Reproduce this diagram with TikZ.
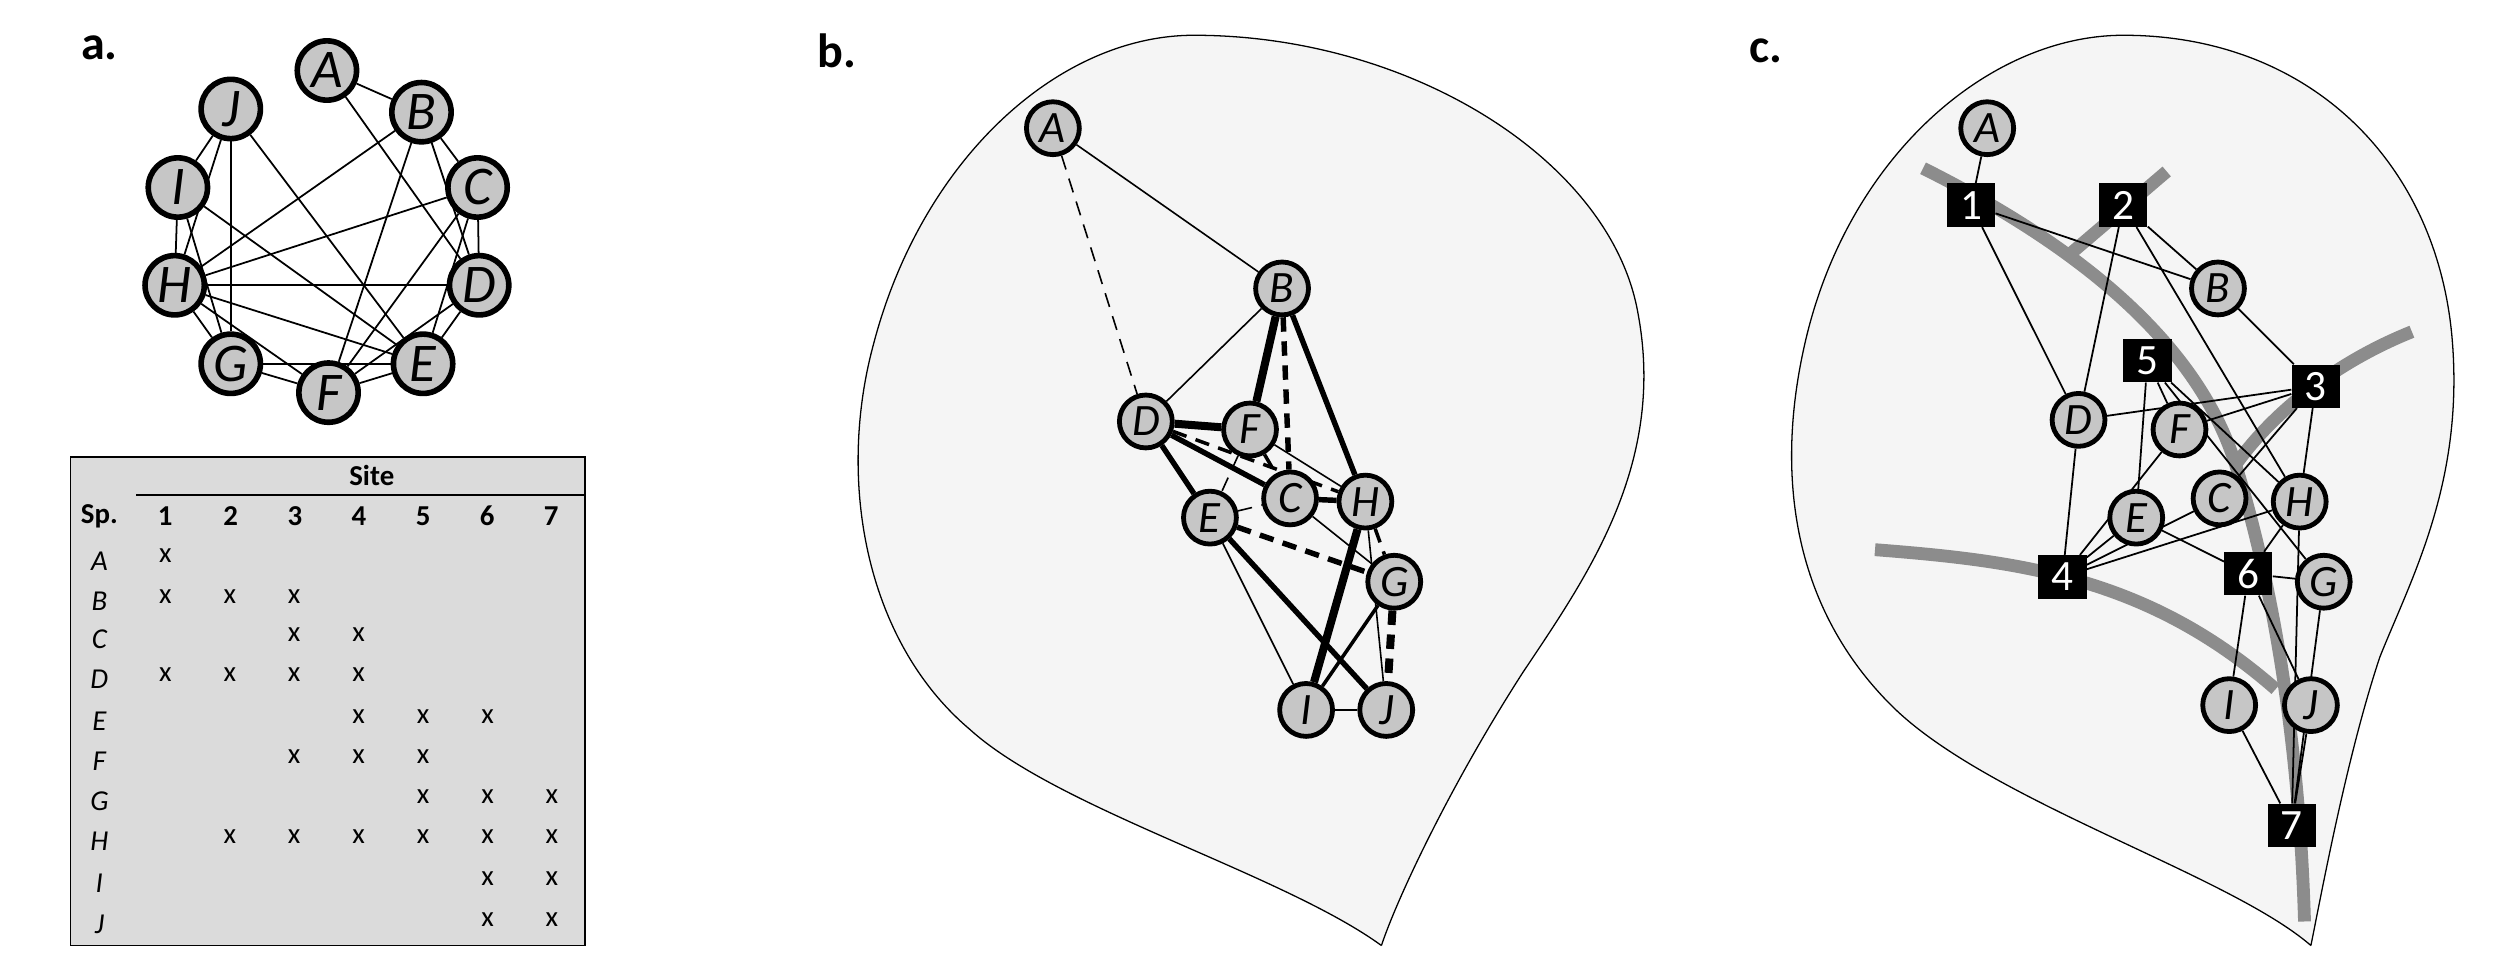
\documentclass[tikz,border=0pt]{standalone}
\usepackage{fontspec}
\setmainfont{Carlito}
\pgfdeclarelayer{outl}
\pgfdeclarelayer{edg}
\pgfsetlayers{outl,edg,main}
\begin{document}
\begin{tikzpicture}[x=1pt,y=-1pt,
  sp/.style={circle,draw=black,line width=3.5pt,fill=gray!45,minimum size=37pt,inner sep=0pt,font=\fontsize{34}{34}\selectfont\itshape},
  spb/.style={sp,minimum size=33pt,line width=3pt,font=\fontsize{28}{28}\selectfont\itshape},
  site/.style={rectangle,fill=black,text=white,minimum width=30pt,minimum height=27pt,inner sep=0pt,font=\fontsize{27}{27}\selectfont},
  lbl/.style={font=\fontsize{30}{30}\selectfont\bfseries},
  ed/.style={line width=1.1pt},
  thn/.style={line width=1pt},
  med/.style={line width=2.2pt},
  thk/.style={line width=3.4pt},
  vth/.style={line width=5pt},
  dsh/.style={dash pattern=on 9pt off 6pt},
  river/.style={line width=8pt,color=black!45},
  tcb/.style={font=\fontsize{18}{18}\selectfont\bfseries},
  tci/.style={font=\fontsize{18}{18}\selectfont\itshape},
  tc/.style={font=\fontsize{18}{18}\selectfont},
  outline/.style={draw=black,line width=0.8pt,fill=black!4}]
\useasboundingbox (0,0) rectangle (1560,610);
% labels
\node[lbl] (la) at (62,30) {a.};
\node[lbl] (lb) at (522,32) {b.};
\node[lbl] (lc) at (1102,32) {c.};
% ---------- panel a ----------
\node[sp] (aA) at (204,44) {A};
\node[sp] (aB) at (263,70) {B};
\node[sp] (aC) at (298,117) {C};
\node[sp] (aD) at (299,178) {D};
\node[sp] (aE) at (264,227) {E};
\node[sp] (aF) at (205,245) {F};
\node[sp] (aG) at (144,227) {G};
\node[sp] (aH) at (109,178) {H};
\node[sp] (aI) at (111,117) {I};
\node[sp] (aJ) at (144,68) {J};
\begin{pgfonlayer}{edg}
\foreach \u/\v in {A/B,A/D,B/D,B/H,D/H,B/C,B/F,C/D,C/F,C/H,D/F,F/H,C/E,D/E,E/F,E/H,E/G,F/G,G/H,E/I,E/J,G/I,G/J,H/I,H/J,I/J}
  \draw[ed] (a\u) -- (a\v);
\end{pgfonlayer}
% table
\draw[line width=1.2pt,fill=black!14] (44,285) rectangle (365,590);
\node[tcb] (tsite) at (232,297) {Site};
\draw[line width=1pt] (85,309) -- (365,309);
\node[tcb] (tsp) at (62,322) {Sp.};
\foreach \k/\x in {1/103,2/144,3/184,4/224,5/264,6/304,7/344}
  \node[tcb] (th\k) at (\x,322) {\k};
\foreach \r/\y/\cols in {A/350/{1},B/375/{1,2,3},C/399/{3,4},D/424/{1,2,3,4},E/450/{4,5,6},F/475/{3,4,5},G/500/{5,6,7},H/525/{2,3,4,5,6,7},I/551/{6,7},J/577/{6,7}}{
  \node[tci] (tr\r) at (62,\y) {\r};
  \foreach \c in \cols {
    \pgfmathsetmacro{\xx}{63+40.2*\c}
    \node[tc] (t\r\c) at (\xx,\y-3) {x};
  }
}
% ---------- panel b ----------
\begin{pgfonlayer}{outl}
\path[outline] (862,590) .. controls (800,545) and (660,505) .. (605,455)
  .. controls (540,400) and (522,300) .. (545,215)
  .. controls (575,100) and (660,22) .. (745,22)
  .. controls (880,22) and (1005,100) .. (1022,195)
  .. controls (1040,290) and (990,360) .. (950,420)
  .. controls (905,490) and (872,560) .. (862,590);
\end{pgfonlayer}
\node[spb] (bA) at (657,80) {A};
\node[spb] (bB) at (800,180) {B};
\node[spb] (bD) at (715,263) {D};
\node[spb] (bF) at (780,268) {F};
\node[spb] (bC) at (805,311) {C};
\node[spb] (bH) at (852,313) {H};
\node[spb] (bE) at (755,323) {E};
\node[spb] (bG) at (870,363) {G};
\node[spb] (bI) at (815,443) {I};
\node[spb] (bJ) at (865,443) {J};
\begin{pgfonlayer}{edg}
\draw[thn] (bA) -- (bB);
\draw[thn,dsh] (bA) -- (bD);
\draw[thn] (bB) -- (bD);
\draw[vth] (bB) -- (bF);
\draw[thk,dsh] (bB) -- (bC);
\draw[thk] (bB) -- (bH);
\draw[vth] (bD) -- (bF);
\draw[thk] (bD) -- (bC);
\draw[thk] (bD) -- (bE);
\draw[med,dsh] (bD) -- (bH);
\draw[med,dsh] (bF) -- (bC);
\draw[thn] (bF) -- (bH);
\draw[thn,dsh] (bF) -- (bE);
\draw[thn,dsh] (bE) -- (bC);
\draw[thk,dsh] (bE) -- (bG);
\draw[thk] (bC) -- (bH);
\draw[thn] (bC) -- (bG);
\draw[vth] (bH) -- (bI);
\draw[med,dsh] (bH) -- (bG);
\draw[thn] (bH) -- (bJ);
\draw[thn] (bE) -- (bI);
\draw[thk] (bE) -- (bJ);
\draw[med] (bG) -- (bI);
\draw[vth,dsh] (bG) -- (bJ);
\draw[thn] (bI) -- (bJ);
\end{pgfonlayer}
% ---------- panel c ----------
\begin{pgfonlayer}{outl}
\path[outline] (1442,590) .. controls (1390,545) and (1240,500) .. (1180,440)
  .. controls (1120,380) and (1108,300) .. (1125,220)
  .. controls (1150,100) and (1240,22) .. (1325,22)
  .. controls (1440,22) and (1520,100) .. (1530,210)
  .. controls (1538,300) and (1505,360) .. (1485,410)
  .. controls (1465,470) and (1450,550) .. (1442,590);
\draw[river] (1200,105) .. controls (1290,150) and (1370,210) .. (1395,290)
  .. controls (1420,370) and (1435,470) .. (1438,575);
\draw[river] (1290,160) -- (1352,107);
\draw[river] (1505,207) .. controls (1460,225) and (1420,255) .. (1395,290);
\draw[river] (1170,343) .. controls (1260,350) and (1340,360) .. (1420,430);
\end{pgfonlayer}
\node[spb] (cA) at (1240,80) {A};
\node[spb] (cB) at (1384,180) {B};
\node[spb] (cD) at (1297,262) {D};
\node[spb] (cF) at (1360,268) {F};
\node[spb] (cC) at (1385,311) {C};
\node[spb] (cH) at (1435,313) {H};
\node[spb] (cE) at (1333,323) {E};
\node[spb] (cG) at (1450,363) {G};
\node[spb] (cI) at (1391,440) {I};
\node[spb] (cJ) at (1442,440) {J};
\node[site] (s1) at (1230,128) {1};
\node[site] (s2) at (1325,128) {2};
\node[site] (s3) at (1445,241) {3};
\node[site] (s4) at (1287,360) {4};
\node[site] (s5) at (1340,225) {5};
\node[site] (s6) at (1403,358) {6};
\node[site] (s7) at (1430,515) {7};
\begin{pgfonlayer}{edg}
\foreach \s/\u in {1/A,1/B,1/D,2/B,2/D,2/H,3/B,3/C,3/D,3/F,3/H,4/C,4/D,4/E,4/F,4/H,5/E,5/F,5/G,5/H,6/E,6/G,6/H,6/I,6/J,7/G,7/H,7/I,7/J}
  \draw[ed] (s\s) -- (c\u);
\end{pgfonlayer}
\end{tikzpicture}
\end{document}
